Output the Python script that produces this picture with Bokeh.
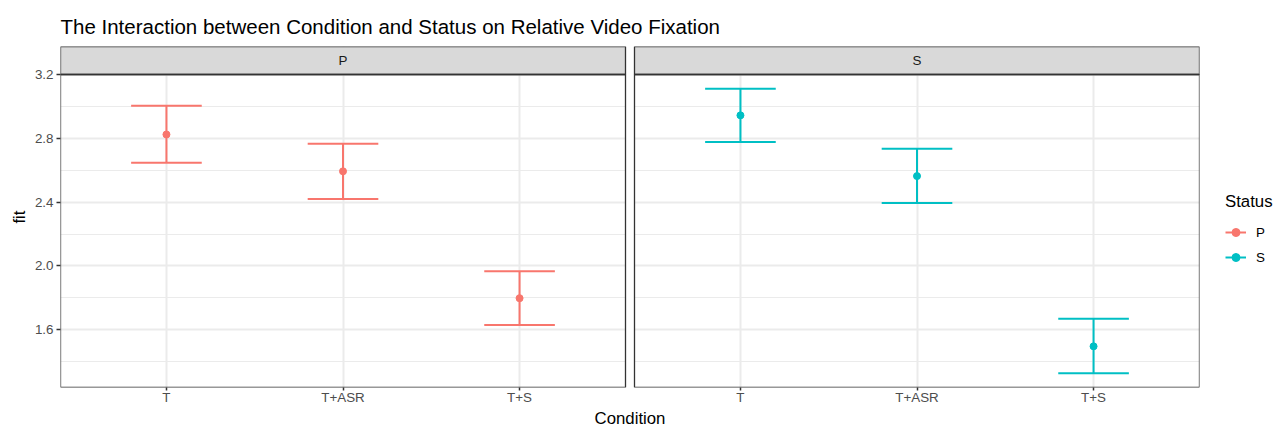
import numpy as np
from bokeh.plotting import figure
from bokeh.layouts import row, column
from bokeh.models import (Range1d, FixedTicker, PrintfTickFormatter, BoxAnnotation,
                          Label, Legend, LegendItem, ColumnDataSource)
from bokeh.embed import file_html
from bokeh.resources import INLINE

# ---------------- data ----------------
conditions = ["T", "T+ASR", "T+S"]
statuses = ["P", "S"]
fit_P = [2.825, 2.594, 1.798]
lower_P = [2.648, 2.420, 1.630]
upper_P = [3.005, 2.767, 1.967]
fit_S = [2.945, 2.564, 1.496]
lower_S = [2.778, 2.395, 1.327]
upper_S = [3.112, 2.736, 1.669]
y_ticks = [1.6, 2.0, 2.4, 2.8, 3.2]
y_minor_ticks = [1.4, 1.8, 2.2, 2.6, 3.0]
status_colors = ["#F8766D", "#00BFC4"]
title_text = "The Interaction between Condition and Status on Relative Video Fixation"
x_title = "Condition"
y_title = "fit"
legend_title = "Status"

fits = {"P": fit_P, "S": fit_S}
lowers = {"P": lower_P, "S": lower_S}
uppers = {"P": upper_P, "S": upper_S}

# ---------------- layout ----------------
W, H = 1274, 428
XT_H = 20                      # strip holding the x-axis title
H1 = H - XT_H                  # height of the main row
LEG_W = 70
MAIN_W = W - LEG_W
B_LEFT, B_RIGHT, B_TOP, B_BOTTOM = 60, 5, 46, 21
frame_w = MAIN_W - B_LEFT - B_RIGHT
frame_h = H1 - B_TOP - B_BOTTOM
gap_px = 9
strip_px = 28
panel_w_px = (frame_w - gap_px) / 2.0
n = len(conditions)
pad_x = 0.6
panel_units = (n - 1) + 2 * pad_x
ppu = panel_w_px / panel_units
gap_units = gap_px / ppu
offsets = [0.0, panel_units + gap_units]
x_start = 1 - pad_x
x_end = x_start + 2 * panel_units + gap_units

all_lo = min(lower_P + lower_S)
all_hi = max(upper_P + upper_S)
ypad = 0.05 * (all_hi - all_lo)
y_lo = all_lo - ypad
y_top = all_hi + ypad
upp = (y_top - y_lo) / (frame_h - strip_px)
y_end = y_top + strip_px * upp

FONT = "Liberation Sans"
GRID = "#EBEBEB"
DARK = "#333333"

p = figure(width=MAIN_W, height=H1, x_range=Range1d(x_start, x_end), y_range=Range1d(y_lo, y_end),
           output_backend="svg", toolbar_location=None,
           min_border_left=B_LEFT, min_border_right=B_RIGHT,
           min_border_top=B_TOP, min_border_bottom=B_BOTTOM,
           title=title_text)
p.outline_line_color = None
p.background_fill_color = "white"
p.border_fill_color = "white"

p.title.text_font = FONT
p.title.text_font_size = "20.5px"
p.title.text_font_style = "normal"
p.title.text_color = "black"
p.title.align = "left"
p.title.standoff = 17

# ---------------- axes ----------------
x_ticks = []
x_over = {}
for off in offsets:
    for i, c in enumerate(conditions):
        xv = i + 1 + off
        x_ticks.append(xv)
        x_over[xv] = c
xt = FixedTicker(ticks=x_ticks, minor_ticks=[])
yt = FixedTicker(ticks=y_ticks, minor_ticks=y_minor_ticks)
p.xaxis.ticker = xt
p.xaxis.major_label_overrides = x_over
p.yaxis.ticker = yt
p.yaxis.formatter = PrintfTickFormatter(format="%.1f")
p.xgrid.ticker = xt
p.ygrid.ticker = yt

for ax in (p.xaxis[0], p.yaxis[0]):
    ax.axis_line_color = None
    ax.major_tick_out = 4
    ax.major_tick_in = 0
    ax.minor_tick_out = 0
    ax.minor_tick_in = 0
    ax.major_tick_line_color = DARK
    ax.major_tick_line_width = 1.5
    ax.major_label_text_font = FONT
    ax.major_label_text_font_size = "13.4px"
    ax.major_label_text_color = "#4D4D4D"
    ax.axis_label_text_font = FONT
    ax.axis_label_text_font_size = "16.8px"
    ax.axis_label_text_font_style = "normal"
    ax.axis_label_text_color = "black"
p.xaxis.major_tick_out = 3
p.yaxis.axis_label = y_title
p.xaxis.major_label_standoff = -1
p.yaxis.major_label_standoff = 3
p.yaxis.axis_label_standoff = 3

p.xgrid.grid_line_color = GRID
p.xgrid.grid_line_width = 2
p.ygrid.grid_line_color = GRID
p.ygrid.grid_line_width = 2
p.ygrid.minor_grid_line_color = GRID
p.ygrid.minor_grid_line_width = 1

# ---------------- data marks ----------------
cap_half = 0.2
for s, off, col in zip(statuses, offsets, status_colors):
    xs = [i + 1 + off for i in range(n)]
    src = ColumnDataSource(dict(
        x=xs, fit=fits[s], lower=lowers[s], upper=uppers[s],
        xl=[x - cap_half for x in xs], xr=[x + cap_half for x in xs]))
    p.segment(x0="x", y0="lower", x1="x", y1="upper", source=src,
              line_color=col, line_width=2)
    p.segment(x0="xl", y0="upper", x1="xr", y1="upper", source=src,
              line_color=col, line_width=2)
    p.segment(x0="xl", y0="lower", x1="xr", y1="lower", source=src,
              line_color=col, line_width=2)
    p.scatter(x="x", y="fit", source=src, size=7, color=col)

# ---------------- panel decoration ----------------
p.add_layout(BoxAnnotation(left=x_start + panel_units, right=x_start + panel_units + gap_units,
                           fill_color="white", fill_alpha=1, line_color=None))
for s, off in zip(statuses, offsets):
    l = x_start + off
    r = l + panel_units
    p.add_layout(BoxAnnotation(left=l, right=r, bottom=y_top, fill_color="#D9D9D9",
                               fill_alpha=1, line_color=DARK, line_alpha=1, line_width=1.3))
    p.add_layout(BoxAnnotation(left=l, right=r, top=y_top, fill_alpha=0,
                               line_color=DARK, line_alpha=1, line_width=1.3))
    p.add_layout(Label(x=(l + r) / 2, y=(y_top + y_end) / 2, text=s,
                       text_align="center", text_baseline="middle",
                       text_font=FONT, text_font_size="13.4px", text_color="#1A1A1A"))

# ---------------- legend (separate narrow figure) ----------------
lf = figure(width=LEG_W, height=H1, x_range=Range1d(0, 1), y_range=Range1d(0, 1),
            output_backend="svg", toolbar_location=None,
            x_axis_location=None, y_axis_location=None,
            min_border_left=0, min_border_right=0, min_border_top=0, min_border_bottom=0)
lf.outline_line_color = None
lf.xgrid.visible = False
lf.ygrid.visible = False
lf.background_fill_color = "white"
lf.border_fill_color = "white"
items = []
for s, col in zip(statuses, status_colors):
    ksrc = ColumnDataSource(dict(x=[np.nan], y=[np.nan]))
    kl = lf.segment(x0="x", y0="y", x1="x", y1="y", source=ksrc, line_color=col, line_width=2)
    kp = lf.scatter(x="x", y="y", source=ksrc, size=7, color=col)
    items.append(LegendItem(label=s, renderers=[kl, kp]))
legend = Legend(items=items, location=(21, 120), title=legend_title,
                title_text_font=FONT, title_text_font_size="16.8px",
                title_text_font_style="normal", title_text_color="black", title_standoff=10,
                label_text_font=FONT, label_text_font_size="13.4px", label_text_color="black",
                glyph_width=21, glyph_height=20, label_height=20, spacing=5,
                label_standoff=10, padding=0, margin=0,
                border_line_color=None, background_fill_alpha=0)
lf.add_layout(legend)

# ---------------- x-axis title strip ----------------
xf = figure(width=W, height=XT_H, x_range=Range1d(0, 1), y_range=Range1d(0, 1),
            output_backend="svg", toolbar_location=None,
            x_axis_location=None, y_axis_location=None,
            min_border_left=B_LEFT, min_border_right=W - B_LEFT - frame_w,
            min_border_top=0, min_border_bottom=0)
xf.outline_line_color = None
xf.xgrid.visible = False
xf.ygrid.visible = False
xf.background_fill_color = "white"
xf.border_fill_color = "white"
xf.add_layout(Label(x=0.5, y=0.5, text=x_title, text_align="center", text_baseline="middle",
                    text_font=FONT, text_font_size="16.8px", text_color="black"))

layout = column(row(p, lf), xf)
open("out.html", "w").write(file_html(layout, INLINE))
